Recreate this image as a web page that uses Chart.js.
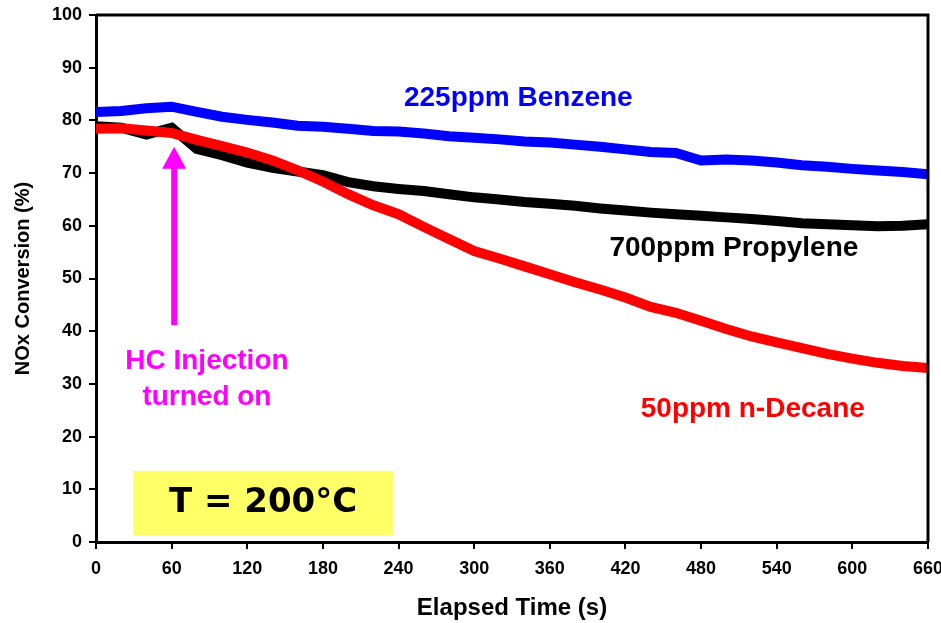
<!DOCTYPE html>
<html>
<head>
<meta charset="utf-8">
<script src="https://cdn.jsdelivr.net/npm/chart.js@4.4.1/dist/chart.umd.min.js"></script>
<style>
  html, body { margin: 0; padding: 0; background: #fff; }
  #wrap { width: 941px; height: 623px; }
</style>
</head>
<body>
<div id="wrap"><canvas id="chart" width="941" height="623"></canvas></div>
<script>
// elapsed time (s), sampled every 20 s
const times = [0, 20, 40, 60, 80, 100, 120, 140, 160, 180, 200, 220, 240, 260, 280, 300, 320,
  340, 360, 380, 400, 420, 440, 460, 480, 500, 520, 540, 560, 580, 600, 620, 640, 660];

// NOx conversion (%)
const benzene = [81.6, 81.8, 82.3, 82.6, 81.6, 80.7, 80.1, 79.6, 79.0, 78.8, 78.4, 78.0, 77.9, 77.5,
  77.0, 76.7, 76.4, 76.0, 75.8, 75.4, 75.0, 74.5, 74.0, 73.8, 72.4, 72.6, 72.4, 72.0, 71.5, 71.2,
  70.8, 70.5, 70.2, 69.8];
const propylene = [78.9, 78.6, 77.3, 78.6, 74.6, 73.4, 72.0, 71.0, 70.3, 69.6, 68.3, 67.5, 67.0,
  66.6, 66.0, 65.4, 65.0, 64.5, 64.2, 63.8, 63.3, 62.9, 62.5, 62.2, 61.9, 61.6, 61.3, 60.9, 60.5,
  60.3, 60.1, 59.9, 60.0, 60.3];
const decane = [78.4, 78.5, 78.1, 77.6, 76.3, 75.1, 73.9, 72.4, 70.5, 68.4, 66.0, 63.9, 62.2, 59.8,
  57.5, 55.2, 53.8, 52.3, 50.8, 49.3, 47.9, 46.4, 44.6, 43.5, 42.0, 40.4, 39.0, 37.9, 36.8, 35.7,
  34.8, 34.0, 33.4, 33.0];

const xTicks = [0, 60, 120, 180, 240, 300, 360, 420, 480, 540, 600, 660];
const yTicks = [0, 10, 20, 30, 40, 50, 60, 70, 80, 90, 100];

function series(values) {
  return times.map((t, i) => ({ x: t, y: values[i] }));
}

function lineSet(label, values, color, order) {
  return {
    label: label,
    data: series(values),
    borderColor: color,
    backgroundColor: color,
    borderWidth: 10,
    pointStyle: 'rect',
    pointRadius: 5,
    pointBorderWidth: 0,
    tension: 0,
    order: order
  };
}

const FONT = '"Liberation Sans", Arial, sans-serif';

// frame, labels, arrow and the temperature box
const annotations = {
  id: 'annotations',
  afterDatasetsDraw(chart) {
    const ctx = chart.ctx;
    const xs = chart.scales.x, ys = chart.scales.y;
    const a = chart.chartArea;
    ctx.save();

    // top and right frame lines
    ctx.strokeStyle = '#000';
    ctx.lineWidth = 3;
    ctx.beginPath();
    ctx.moveTo(a.left, a.top);
    ctx.lineTo(a.right, a.top);
    ctx.lineTo(a.right, a.bottom);
    ctx.stroke();

    // yellow temperature box
    const bx0 = xs.getPixelForValue(29.5), bx1 = xs.getPixelForValue(235.5);
    const by0 = ys.getPixelForValue(13.5), by1 = ys.getPixelForValue(1.3);
    ctx.fillStyle = '#ffff66';
    ctx.fillRect(bx0, by0, bx1 - bx0, by1 - by0);
    ctx.fillStyle = '#000';
    ctx.font = 'bold 34px "DejaVu Sans", Verdana, sans-serif';
    ctx.textAlign = 'center';
    ctx.textBaseline = 'middle';
    ctx.fillText('T = 200°C', xs.getPixelForValue(132.5), ys.getPixelForValue(7.4));

    // series labels
    ctx.font = 'bold 28px ' + FONT;
    ctx.fillStyle = '#0000ff';
    ctx.fillText('225ppm Benzene', xs.getPixelForValue(335), ys.getPixelForValue(84.2));
    ctx.fillStyle = '#000';
    ctx.fillText('700ppm Propylene', xs.getPixelForValue(506), ys.getPixelForValue(55.8));
    ctx.fillStyle = '#ff0000';
    ctx.fillText('50ppm n-Decane', xs.getPixelForValue(521), ys.getPixelForValue(25.2));

    // HC injection note and arrow
    ctx.fillStyle = '#ff00ff';
    ctx.fillText('HC Injection', xs.getPixelForValue(88), ys.getPixelForValue(34.2));
    ctx.fillText('turned on', xs.getPixelForValue(88), ys.getPixelForValue(27.5));

    const ax = xs.getPixelForValue(62);
    const ay0 = ys.getPixelForValue(41.2), ay1 = ys.getPixelForValue(75.0);
    ctx.strokeStyle = '#ff00ff';
    ctx.lineWidth = 6;
    ctx.beginPath();
    ctx.moveTo(ax, ay0);
    ctx.lineTo(ax, ay1 + 18);
    ctx.stroke();
    ctx.beginPath();
    ctx.moveTo(ax, ay1);
    ctx.lineTo(ax - 12, ay1 + 22);
    ctx.lineTo(ax + 12, ay1 + 22);
    ctx.closePath();
    ctx.fill();

    ctx.restore();
  }
};

new Chart(document.getElementById('chart'), {
  type: 'line',
  data: {
    datasets: [
      lineSet('225ppm Benzene', benzene, '#0000ff', 3),
      lineSet('700ppm Propylene', propylene, '#000000', 2),
      lineSet('50ppm n-Decane', decane, '#ff0000', 1)
    ]
  },
  options: {
    responsive: false,
    animation: false,
    layout: { padding: { top: 15, right: 13, left: 0, bottom: 0 } },
    plugins: { legend: { display: false }, tooltip: { enabled: false } },
    scales: {
      x: {
        type: 'linear',
        min: 0,
        max: 660,
        afterBuildTicks(scale) { scale.ticks = xTicks.map(v => ({ value: v })); },
        afterFit(scale) {
          scale.height = 81;
          scale.paddingLeft = 0;
          scale.paddingRight = 0;
        },
        ticks: { color: '#000', font: { family: FONT, size: 18, weight: 'bold' }, padding: 9, maxRotation: 0 },
        grid: { drawOnChartArea: false, color: '#000', lineWidth: 2, tickLength: 7 },
        border: { color: '#000', width: 3 },
        title: {
          display: true,
          text: 'Elapsed Time (s)',
          color: '#000',
          font: { family: FONT, size: 24, weight: 'bold' },
          padding: { top: 1, bottom: 0 }
        }
      },
      y: {
        min: 0,
        max: 100,
        afterBuildTicks(scale) { scale.ticks = yTicks.map(v => ({ value: v })); },
        afterFit(scale) {
          scale.width = 96;
          scale.paddingTop = 0;
          scale.paddingBottom = 0;
        },
        ticks: { color: '#000', font: { family: FONT, size: 18, weight: 'bold' }, padding: 7 },
        grid: { drawOnChartArea: false, color: '#000', lineWidth: 2, tickLength: 7 },
        border: { color: '#000', width: 3 },
        title: {
          display: true,
          text: 'NOx Conversion (%)',
          color: '#000',
          font: { family: FONT, size: 20, weight: 'bold' },
          padding: { top: 11, bottom: 0 }
        }
      }
    }
  },
  plugins: [annotations]
});
</script>
</body>
</html>
